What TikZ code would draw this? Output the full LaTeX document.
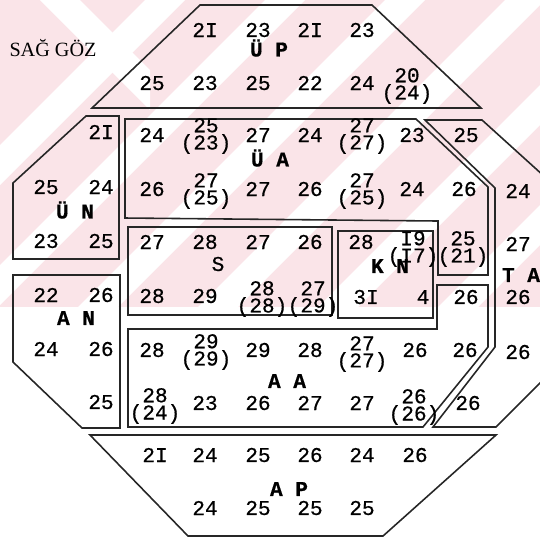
\documentclass[tikz,border=0pt]{standalone}
\usepackage{fontspec}
\setmainfont{Liberation Serif}
\newfontfamily\twfont[FakeBold=0.6]{Liberation Mono}
\usepackage{xcolor}
\definecolor{wmpink}{RGB}{250,228,232}

\begin{document}
\begin{tikzpicture}[x=0.02cm, y=-0.02cm,
  ZN/.style ={draw=black!85, line width=0.9pt, line join=miter},
  NUM/.style={inner sep=0pt, font=\twfont\fontsize{12}{12}\selectfont},
  PR/.style ={inner sep=0pt, align=center, font=\twfont\fontsize{12}{7}\selectfont},
  LB/.style ={inner sep=0pt, font=\twfont\bfseries\fontsize{12}{12}\selectfont}
]
  \useasboundingbox (0,0) rectangle (540,539);
  \clip (0,0) rectangle (540,539);

  % watermark
  \fill[wmpink] (0,0) rectangle (540,307);
  \begin{scope}
    \clip (0,0) rectangle (540,307);
    \foreach \c in {165,285,405,525,645,765}
      \fill[white] (\c-20,0) -- (\c+20,0) -- (\c+20-307,307) -- (\c-20-307,307) -- cycle;
    \fill[white] (40,0) -- (80,0) -- (150,70) -- (150,110) -- cycle;
  \end{scope}

  % zones
  \draw[ZN] (200,5) -- (372,5) -- (481,108) -- (92,108) -- cycle;
  \draw[ZN] (86,116) -- (119,116) -- (119,259) -- (13,259) -- (13,183) -- cycle;
  \draw[ZN] (125,119) -- (416,119) -- (488,187) -- (488,275) -- (438,275)
            -- (438,221) -- (125,218) -- cycle;
  \draw[ZN] (425,120) -- (482,120) -- (545,177) -- (545,378) -- (496,427)
            -- (433,427) -- (495,347) -- (495,188) -- cycle;
  \draw[ZN] (128,227) rectangle (332,315);
  \draw[ZN] (338,231) rectangle (433,318);
  \draw[ZN] (13,275) -- (120,275) -- (120,428) -- (82,428) -- (13,362) -- cycle;
  \draw[ZN] (128,329) -- (437,329) -- (437,285) -- (488,285) -- (488,347)
            -- (423,427) -- (128,427) -- cycle;
  \draw[ZN] (90,435) -- (496,435) -- (383,536) -- (188,536) -- cycle;

  \node[inner sep=0pt, font=\fontsize{11.5}{12}\selectfont] (title) at (53,48) {SAĞ GÖZ};

  % UP
  \foreach \px/\v [count=\i] in {205/2I,258/23,310/2I,362/23}
    \node[NUM] (upa\i) at (\px,30) {\v};
  \node[LB] (upl) at (269,48) {Ü P};
  \foreach \px/\v [count=\i] in {152/25,205/23,258/25,310/22,362/24}
    \node[NUM] (upb\i) at (\px,83) {\v};
  \node[PR] (upp) at (407,86) {20\\(24)};

  % UN
  \node[NUM] (un1) at (101,132) {2I};
  \foreach \px/\py/\v [count=\i] in {46/187/25,101/187/24,46/241/23,101/241/25}
    \node[NUM] (un\i) at (\px,\py) {\v};
  \node[LB] (unl) at (75,210) {Ü N};

  % UA
  \foreach \px/\v [count=\i] in {152/24,258/27,310/24,412/23}
    \node[NUM] (uaa\i) at (\px,135) {\v};
  \foreach \px/\v [count=\i] in {152/26,258/27,310/26,412/24,464/26}
    \node[NUM] (uab\i) at (\px,189) {\v};
  \foreach \px/\py/\a/\b [count=\i] in {206/136/25/23,362/136/27/27,206/191/27/25,
                                        362/191/27/25,463/249/25/21}
    \node[PR] (uap\i) at (\px,\py) {\a\\(\b)};
  \node[LB] (ual) at (270,158) {Ü A};

  % TA
  \foreach \px/\py/\v [count=\i] in {466/135/25,518/191/24,518/244/27,518/297/26,518/352/26}
    \node[NUM] (ta\i) at (\px,\py) {\v};
  \node[LB] (tal) at (521,275) {T A};

  % S
  \foreach \px/\py/\v [count=\i] in {152/242/27,205/242/28,258/242/27,310/242/26,
                                     152/296/28,205/296/29}
    \node[NUM] (s\i) at (\px,\py) {\v};
  \foreach \px/\a/\b [count=\i] in {262/28/28,313/27/29}
    \node[PR] (sp\i) at (\px,299) {\a\\(\b)};
  \node[NUM] (sl) at (218,264) {S};

  % KN
  \foreach \px/\py/\v [count=\i] in {361/242/28,366/297/3I,423/297/4}
    \node[NUM] (kn\i) at (\px,\py) {\v};
  \node[PR] (knp) at (413,249) {I9\\(I7)};
  \node[LB] (knl) at (390,266) {K N};

  % AN
  \foreach \px/\py/\v [count=\i] in {46/295/22,101/295/26,46/349/24,101/349/26,101/402/25}
    \node[NUM] (an\i) at (\px,\py) {\v};
  \node[LB] (anl) at (76,318) {A N};

  % AA
  \node[NUM] (aa0) at (466,297) {26};
  \foreach \px/\v [count=\i] in {152/28,258/29,310/28,415/26,465/26}
    \node[NUM] (aaa\i) at (\px,350) {\v};
  \foreach \px/\v [count=\i] in {205/23,258/26,310/27,362/27,468/26}
    \node[NUM] (aab\i) at (\px,403) {\v};
  \foreach \px/\py/\a/\b [count=\i] in {206/352/29/29,362/354/27/27,155/406/28/24,414/407/26/26}
    \node[PR] (aap\i) at (\px,\py) {\a\\(\b)};
  \node[LB] (aal) at (287,381) {A A};

  % AP
  \foreach \px/\v [count=\i] in {155/2I,205/24,258/25,310/26,362/24,415/26}
    \node[NUM] (apa\i) at (\px,455) {\v};
  \node[LB] (apl) at (289,489) {A P};
  \foreach \px/\v [count=\i] in {205/24,258/25,310/25,362/25}
    \node[NUM] (apb\i) at (\px,508) {\v};
\end{tikzpicture}
\end{document}
